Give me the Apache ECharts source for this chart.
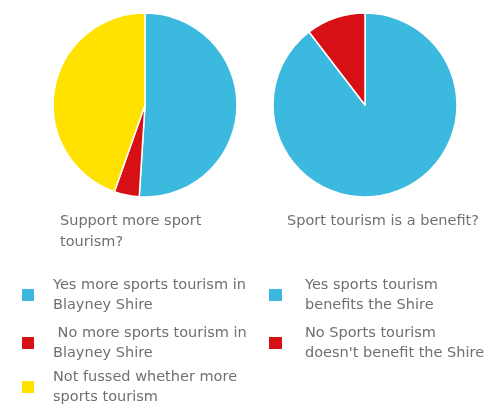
<!DOCTYPE html>
<html><head><meta charset="utf-8">
<script src="https://cdn.jsdelivr.net/npm/echarts@6/dist/echarts.min.js"></script>
<style>html,body{margin:0;padding:0;background:#fff}#c{width:492px;height:410px}</style>
</head><body><div id="c"></div>
<script>
const leftNames = ['Yes more sports tourism in Blayney Shire', ' No more sports tourism in Blayney Shire', 'Not fussed whether more sports tourism'];
const leftLabels = ['Yes more sports tourism in\nBlayney Shire', ' No more sports tourism in\nBlayney Shire', 'Not fussed whether more\nsports tourism'];
const leftValues = [51, 4.4, 44.6];
const rightNames = ['Yes sports tourism benefits the Shire', "No Sports tourism doesn't benefit the Shire"];
const rightLabels = ['Yes sports tourism\nbenefits the Shire', "No Sports tourism\ndoesn't benefit the Shire"];
const rightValues = [89.6, 10.4];
const titles = ['Support more sport\ntourism?', 'Sport tourism is a benefit?'];
const colors = ['#3BB9DF', '#D71016', '#FFE200'];

const FONT = 'DejaVu Sans';
const FS = 14.5;
const TXT = '#707070';
const labelMap = {};
leftNames.forEach((n,i)=>labelMap[n]=leftLabels[i]);
rightNames.forEach((n,i)=>labelMap[n]=rightLabels[i]);

const leftTops = [272, 320, 367];
const leftPadB = [6, 6, 0];
const rightTops = [272, 320];
const legends = [];
leftNames.forEach((n,i)=>legends.push({orient:'vertical', left:20, top:leftTops[i], padding:0, itemWidth:14, itemHeight:14, icon:'rect',
  data:[n], formatter: x=>labelMap[x], selectedMode:false,
  textStyle:{fontFamily:FONT, fontSize:FS, color:TXT, lineHeight:20, padding:[0,0,leftPadB[i],13]}}));
rightNames.forEach((n,i)=>legends.push({orient:'vertical', left:267, top:rightTops[i], padding:0, itemWidth:15, itemHeight:14, icon:'rect',
  data:[n], formatter: x=>labelMap[x], selectedMode:false,
  textStyle:{fontFamily:FONT, fontSize:FS, color:TXT, lineHeight:20, padding:[0,0,6,17]}}));

const chart = echarts.init(document.getElementById('c'));
chart.setOption({
  animation: false,
  color: colors,
  title: [
    {text: titles[0], left: 60, top: 211, padding:0, textStyle:{fontFamily:FONT, fontSize:FS, fontWeight:'normal', color:TXT, lineHeight:21}},
    {text: titles[1], left: 287, top: 211, padding:0, textStyle:{fontFamily:FONT, fontSize:FS, fontWeight:'normal', color:TXT, lineHeight:21}}
  ],
  legend: legends,
  series: [
    {type:'pie', center:[145,105], radius:92, startAngle:90, clockwise:true, label:{show:false}, labelLine:{show:false},
     itemStyle:{borderColor:'#fff', borderWidth:1.5}, emphasis:{disabled:true},
     data: leftNames.map((n,i)=>({name:n, value:leftValues[i], itemStyle:{color:colors[i]}}))},
    {type:'pie', center:[365,105], radius:92, startAngle:90, clockwise:true, label:{show:false}, labelLine:{show:false},
     itemStyle:{borderColor:'#fff', borderWidth:1.5}, emphasis:{disabled:true},
     data: rightNames.map((n,i)=>({name:n, value:rightValues[i], itemStyle:{color:colors[i]}}))}
  ]
});
</script></body></html>
